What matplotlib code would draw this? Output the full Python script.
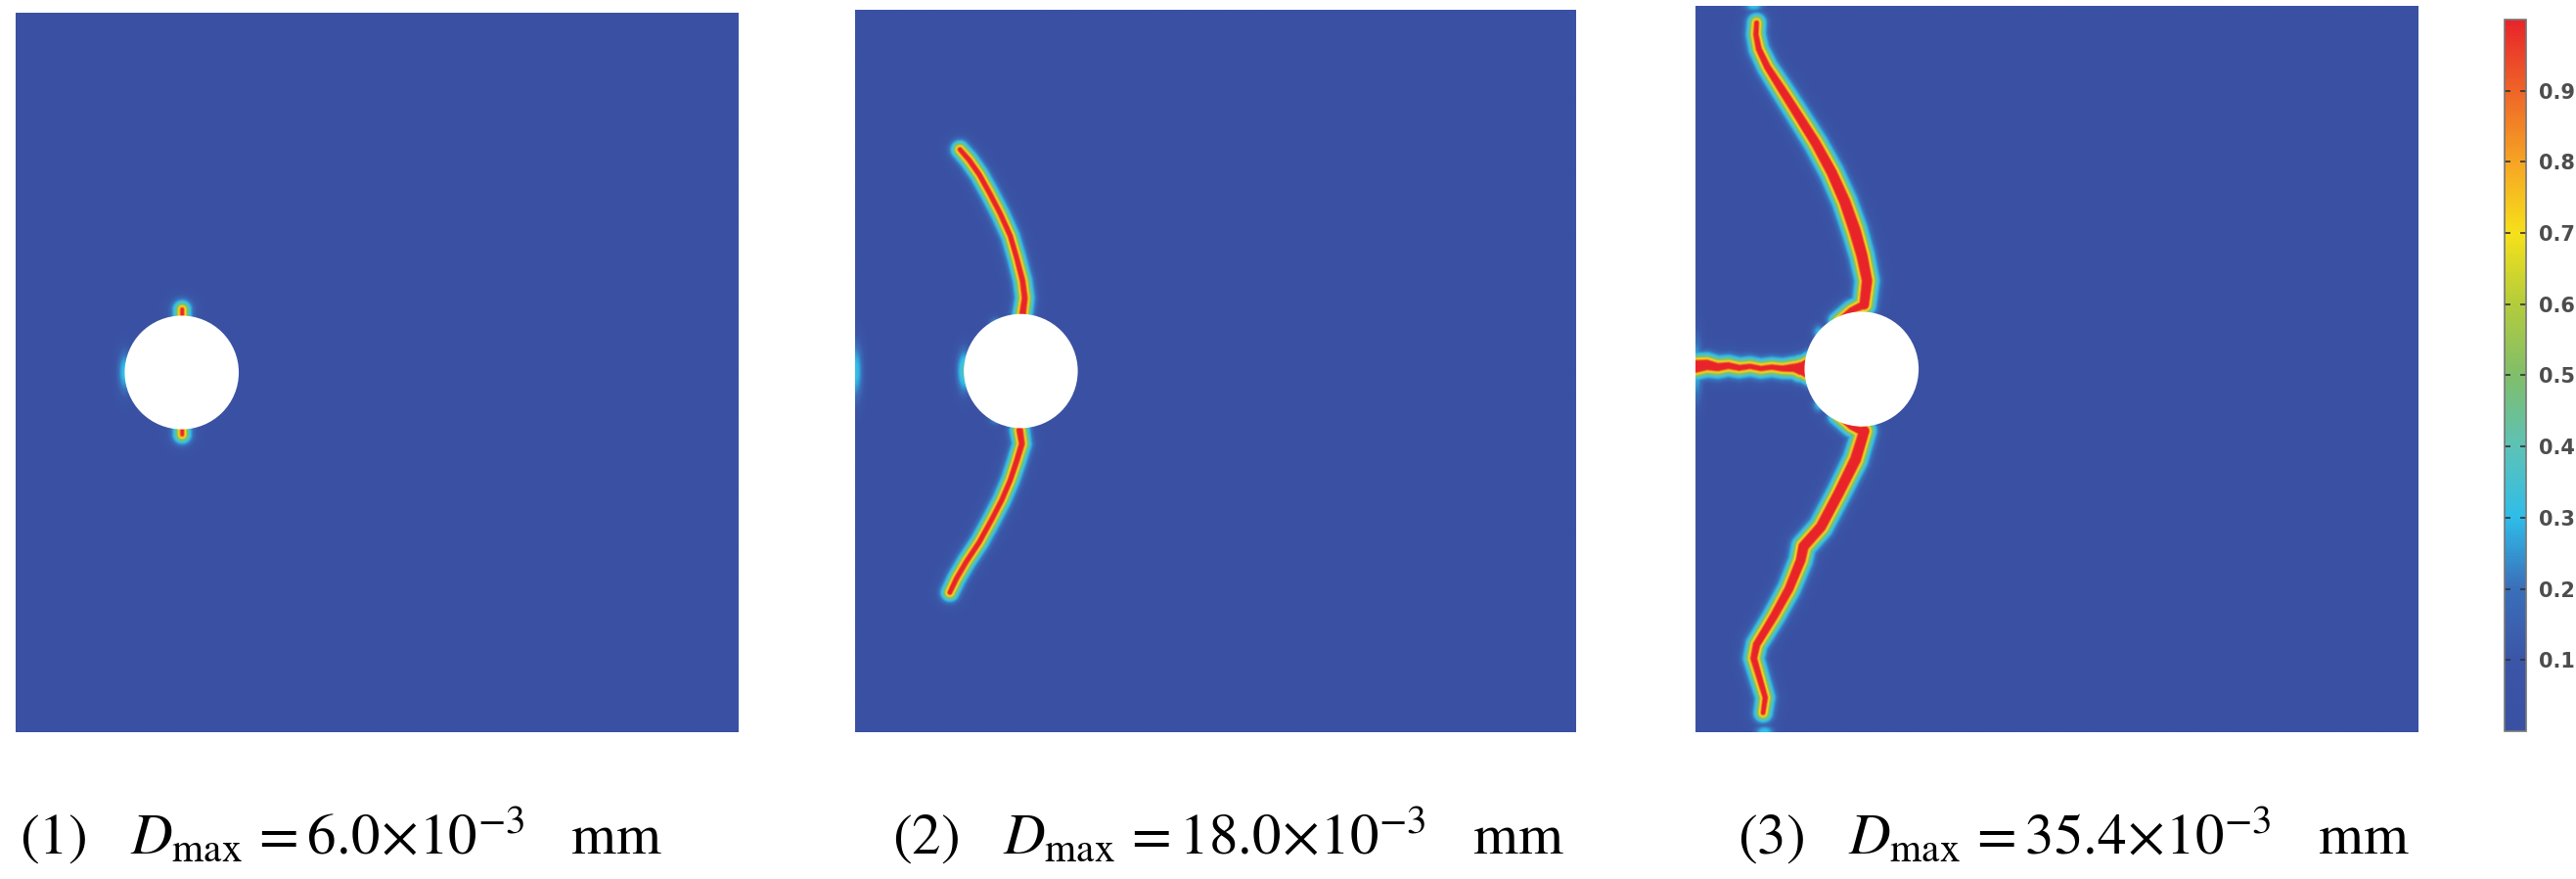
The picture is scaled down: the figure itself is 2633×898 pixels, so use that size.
import numpy as np
import matplotlib.pyplot as plt
from matplotlib.colors import LinearSegmentedColormap, Normalize
from matplotlib.cm import ScalarMappable
from matplotlib.patches import Circle

plt.rcParams['mathtext.fontset'] = 'stix'

# plate taken as 100 x 100, circular hole on the left side
hole_x, hole_y, hole_r = 23.0, 50.0, 7.9

# crack paths: x, y and core half-width
p1_top_x = [23.0, 23.0]
p1_top_y = [57.9, 58.7]
p1_top_w = [0.15, 0.15]
p1_bot_x = [23.0, 23.0]
p1_bot_y = [42.1, 41.3]
p1_bot_w = [0.15, 0.15]

p2_up_x = [23.2, 23.5, 23.2, 22.4, 21.5, 20.1, 18.7, 17.2, 15.8, 14.5]
p2_up_y = [57.9, 60.1, 62.5, 65.6, 68.7, 71.8, 74.5, 77.2, 79.2, 80.7]
p2_up_w = [0.35, 0.3, 0.28, 0.25, 0.25, 0.25, 0.25, 0.25, 0.25, 0.22]
p2_lo_x = [22.8, 23.1, 22.4, 21.5, 20.3, 18.9, 17.2, 15.4, 14.0, 13.1]
p2_lo_y = [41.8, 39.9, 37.6, 34.9, 32.1, 29.4, 26.3, 23.6, 21.2, 19.3]
p2_lo_w = [0.35, 0.3, 0.28, 0.25, 0.25, 0.25, 0.25, 0.25, 0.25, 0.22]

p3_up_x = [23.3, 23.7, 23.0, 22.0, 20.6, 18.8, 16.6, 14.2, 11.9, 9.9, 8.7, 8.3, 8.4]
p3_up_y = [58.8, 62.1, 65.5, 69.0, 73.0, 77.0, 81.0, 84.8, 88.4, 91.5, 94.0, 96.0, 97.6]
p3_up_w = [0.55, 0.6, 0.65, 0.7, 0.65, 0.6, 0.55, 0.5, 0.45, 0.35, 0.3, 0.25, 0.22]
p3_lo_x = [23.3, 22.1, 19.8, 17.3, 14.9, 14.5, 12.9, 10.8, 8.4, 8.0, 8.8, 9.6, 9.3]
p3_lo_y = [41.4, 37.5, 32.9, 28.2, 25.5, 23.6, 19.7, 15.9, 12.0, 10.1, 7.4, 4.7, 2.6]
p3_lo_w = [0.6, 0.65, 0.6, 0.6, 0.6, 0.55, 0.5, 0.45, 0.4, 0.35, 0.3, 0.25, 0.2]
p3_mid_x = [0.0, 1.5, 3.0, 4.5, 6.0, 7.5, 9.0, 10.5, 12.0, 13.5, 14.5, 15.3]
p3_mid_y = [50.3, 50.5, 50.2, 50.4, 50.1, 50.3, 50.0, 50.2, 50.0, 50.1, 50.0, 50.0]
p3_mid_w = [0.75, 0.6, 0.45, 0.35, 0.3, 0.25, 0.25, 0.25, 0.3, 0.45, 0.75, 1.2]
p3_root_x = [19.5, 21.5, 23.3]
p3_root_y = [56.6, 58.0, 58.8]
p3_root_w = [0.05, 0.3, 0.45]
p3_root2_x = [19.5, 21.5, 23.3]
p3_root2_y = [43.4, 42.0, 41.2]
p3_root2_w = [0.05, 0.3, 0.45]

# faint damage spots: x, y, peak, spread in x, spread in y
p1_glow = [(15.1, 50.0, 0.32, 0.9, 2.5)]
p2_glow = [(15.1, 50.0, 0.38, 0.9, 2.5), (0.0, 50.0, 0.32, 0.9, 3.5),
           (19.5, 56.5, 0.3, 0.8, 0.8), (19.5, 43.5, 0.3, 0.8, 0.8)]
p3_glow = [(8.0, 100.0, 0.32, 1.2, 0.8), (9.5, 0.0, 0.32, 1.2, 0.8),
           (0.0, 50.0, 0.3, 0.9, 4.0), (17.0, 55.0, 0.3, 0.8, 1.0),
           (17.0, 45.0, 0.3, 0.8, 1.0)]

labels = [r'(1)   $D_{\mathrm{max}}\,=6.0\!\times\!10^{-3}$   mm',
          r'(2)   $D_{\mathrm{max}}\,=18.0\!\times\!10^{-3}$   mm',
          r'(3)   $D_{\mathrm{max}}\,=35.4\!\times\!10^{-3}$   mm']
cbar_ticks = [0.1, 0.2, 0.3, 0.4, 0.5, 0.6, 0.7, 0.8, 0.9]

cmap = LinearSegmentedColormap.from_list('comsol_rainbow', [
    (0.0, '#3a51a3'), (0.1, '#3b55a7'), (0.2, '#3a6fb9'), (0.3, '#2fbde9'),
    (0.4, '#5dc2b6'), (0.5, '#80be6a'), (0.6, '#b3cc3c'), (0.7, '#f6e11a'),
    (0.8, '#f6a524'), (0.9, '#ef6528'), (1.0, '#e8242a')])

N = 760
gx = np.linspace(0, 100, N)
X, Y = np.meshgrid(gx, gx)


def crack_field(xs, ys, ws, soft):
    out = np.zeros_like(X)
    for i in range(len(xs) - 1):
        ax, ay = xs[i], ys[i]
        dx, dy = xs[i + 1] - ax, ys[i + 1] - ay
        L2 = dx * dx + dy * dy
        t = np.clip(((X - ax) * dx + (Y - ay) * dy) / L2, 0, 1)
        dist = np.hypot(X - (ax + t * dx), Y - (ay + t * dy))
        w = ws[i] + t * (ws[i + 1] - ws[i])
        out = np.maximum(out, np.exp(-np.clip(dist - w, 0, None) / soft))
    return out


def glow_field(spots):
    out = np.zeros_like(X)
    for x0, y0, pk, sx, sy in spots:
        out = np.maximum(out, pk * np.exp(-0.5 * (((X - x0) / sx) ** 2 + ((Y - y0) / sy) ** 2)))
    return out


panels = [
    ([(p1_top_x, p1_top_y, p1_top_w), (p1_bot_x, p1_bot_y, p1_bot_w)], 0.85, p1_glow),
    ([(p2_up_x, p2_up_y, p2_up_w), (p2_lo_x, p2_lo_y, p2_lo_w)], 0.8, p2_glow),
    ([(p3_up_x, p3_up_y, p3_up_w), (p3_lo_x, p3_lo_y, p3_lo_w),
      (p3_mid_x, p3_mid_y, p3_mid_w), (p3_root_x, p3_root_y, p3_root_w),
      (p3_root2_x, p3_root2_y, p3_root2_w)], 0.85, p3_glow),
]

fig = plt.figure(figsize=(26.33, 8.98), dpi=100)
axes_pos = [[0.00608, 0.1670, 0.2803, 0.8185],
            [0.3319, 0.1670, 0.2799, 0.8218],
            [0.6582, 0.1670, 0.2803, 0.8263]]
label_x = [0.0076, 0.3464, 0.6745]

for k, (cracks, soft, glows) in enumerate(panels):
    ax = fig.add_axes(axes_pos[k])
    field = glow_field(glows)
    for xs, ys, ws in cracks:
        field = np.maximum(field, crack_field(xs, ys, ws, soft))
    ax.imshow(field, cmap=cmap, vmin=0, vmax=1, origin='lower',
              extent=[0, 100, 0, 100], aspect='auto', interpolation='bilinear')
    ax.add_patch(Circle((hole_x, hole_y), hole_r, facecolor='white', edgecolor='none'))
    ax.set_xlim(0, 100)
    ax.set_ylim(0, 100)
    ax.axis('off')
    fig.text(label_x[k], 0.028, labels[k], fontsize=42.5, family='STIXGeneral',
             va='baseline', ha='left')

cax = fig.add_axes([0.9723, 0.1682, 0.00836, 0.8096])
sm = ScalarMappable(norm=Normalize(0, 1), cmap=cmap)
cb = fig.colorbar(sm, cax=cax, ticks=cbar_ticks)
cb.ax.set_yticklabels([f'{t:.1f}' for t in cbar_ticks])
cb.outline.set_edgecolor('#777777')
cb.outline.set_linewidth(1.2)
cax.tick_params(direction='in', length=4, width=1.2, color='#333333',
                left=True, right=True, labelsize=15, labelcolor='#4d4d4d', pad=9)
for t in cax.get_yticklabels():
    t.set_fontweight('bold')

fig.savefig('out.png', dpi=100)
